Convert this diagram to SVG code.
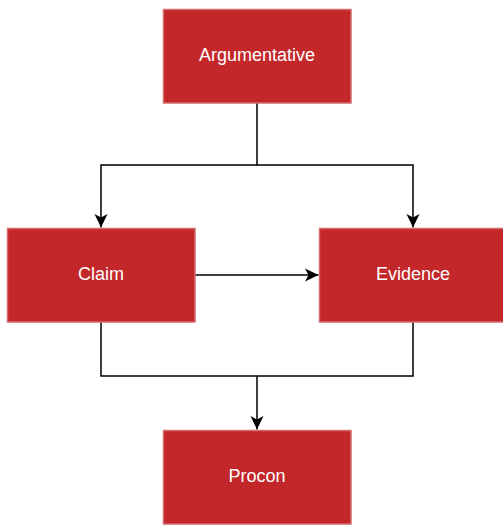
<svg xmlns="http://www.w3.org/2000/svg" width="503" height="525" viewBox="0 0 503 525">
<style>
.box{fill:#c3272a;stroke:#d46c6c;stroke-width:1.5}
.lbl{fill:#ffffff;font-family:"Liberation Sans",Arial,sans-serif;font-size:18px;text-anchor:middle}
.edge{fill:none;stroke:#000000;stroke-width:1.5}
</style>
<defs>
<marker id="arr" markerUnits="userSpaceOnUse" viewBox="0 0 14 14" markerWidth="14" markerHeight="14" refX="13.5" refY="7" orient="auto">
<path d="M0,0.5 L13.5,7 L0,13.5 L3.5,7 z" fill="#000000"/>
</marker>
</defs>
<rect width="503" height="525" fill="#ffffff"/>
<g id="connectors">
<path class="edge" d="M257,103 V165 H101 V227.5" marker-end="url(#arr)"/>
<path class="edge" d="M257,165 H413 V227.5" marker-end="url(#arr)"/>
<path class="edge" d="M195,275 H318.5" marker-end="url(#arr)"/>
<path class="edge" d="M101,322 V376 H413 V322"/>
<path class="edge" d="M257,376 V429.5" marker-end="url(#arr)"/>
</g>
<g id="argumentative">
<rect class="box" x="163.5" y="9.5" width="187.5" height="93.5"/>
<text class="lbl" x="257" y="61">Argumentative</text>
</g>
<g id="claim">
<rect class="box" x="7.5" y="228.5" width="187.5" height="93.5"/>
<text class="lbl" x="101" y="280">Claim</text>
</g>
<g id="evidence">
<rect class="box" x="319.5" y="228.5" width="187.5" height="93.5"/>
<text class="lbl" x="413" y="280">Evidence</text>
</g>
<g id="procon">
<rect class="box" x="163.5" y="430.5" width="187.5" height="93.5"/>
<text class="lbl" x="257" y="482">Procon</text>
</g>
</svg>
